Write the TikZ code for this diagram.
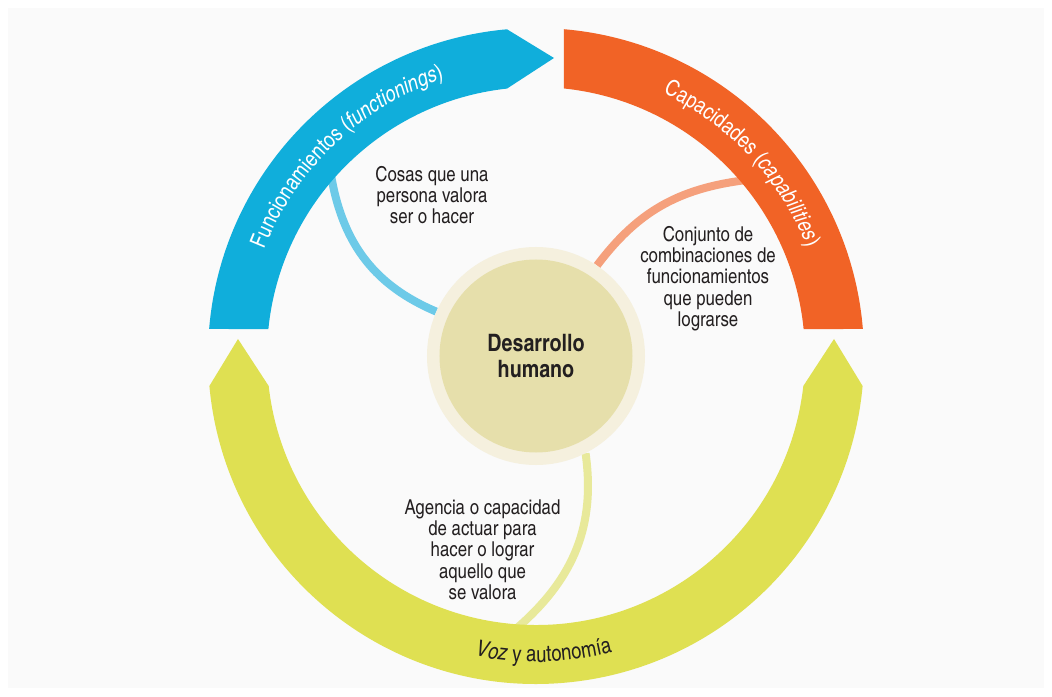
\documentclass[tikz,border=0pt]{standalone}
\usepackage{fontspec}
\setmainfont{texgyreheroscn-regular.otf}[BoldFont=texgyreheroscn-bold.otf, ItalicFont=texgyreheroscn-italic.otf, BoldItalicFont=texgyreheroscn-bolditalic.otf]
\usetikzlibrary{decorations.text}
\definecolor{panelgray}{HTML}{FAFAFA}
\definecolor{bandblue}{HTML}{10AEDB}
\definecolor{bandorange}{HTML}{F16326}
\definecolor{bandyellow}{HTML}{DFE052}
\definecolor{linkblue}{HTML}{6DCAE8}
\definecolor{linkorange}{HTML}{F5A07C}
\definecolor{linkyellow}{HTML}{E8E99A}
\definecolor{coreouter}{HTML}{F5F0DE}
\definecolor{coreinner}{HTML}{E6DFAB}
\definecolor{ink}{HTML}{231F20}
\newcommand\arcfont{\fontsize{22.5pt}{22.5pt}\selectfont}
\pgfdeclarelayer{paper}
\pgfdeclarelayer{links}
\pgfsetlayers{paper,links,main}
\tikzset{
  note/.style={align=center, text=ink, inner sep=0pt, font=\fontsize{20.5pt}{21.3pt}\selectfont},
  linkline/.style={line width=8pt, shorten >=-5pt},
  arclabel/.style 2 args={decorate, decoration={text along path, text align=center, text color=#2, text={#1}}}
}
\begin{document}
\begin{tikzpicture}[x=1pt,y=1pt]
\useasboundingbox (-536,-340) rectangle (516,356);
\begin{pgfonlayer}{paper}
\fill[white] (-536,-340) rectangle (516,356);
\fill[panelgray] (-528,-332) rectangle (508,348);
\end{pgfonlayer}

% bands
\fill[bandblue] (174.239:269pt) -- (175.278:328pt) arc[start angle=175.278, end angle=95.072, radius=328pt]
  -- (18pt,298pt) -- (96.189:269pt) arc[start angle=96.189, end angle=174.239, radius=269pt] -- cycle;
\fill[bandorange] (85.103:328pt) arc[start angle=85.103, end angle=4.722, radius=328pt]
  -- (5.761:269pt) arc[start angle=5.761, end angle=84.025, radius=269pt] -- cycle;
\fill[bandyellow] (185.248:328pt) arc[start angle=185.248, end angle=354.752, radius=328pt]
  -- (298pt,17pt) -- (353.597:269pt) arc[start angle=353.597, end angle=186.403, radius=269pt]
  -- (-298pt,17pt) -- cycle;

% band labels
\path[arclabel={|\arcfont|Funcionamientos (|\arcfont\itshape|functionings|\arcfont|)}{white}]
  (172:292pt) arc[start angle=172, end angle=95, radius=292pt];
\path[arclabel={|\arcfont|Capacidades (|\arcfont\itshape|capabilities|\arcfont|)}{white}]
  (80:292pt) arc[start angle=80, end angle=6, radius=292pt];
\path[arclabel={|\arcfont\itshape|Voz|\arcfont| y autonomía}{ink}]
  (240:306pt) arc[start angle=240, end angle=303, radius=306pt];

% connector ends on the bands
\coordinate (fEnd) at (139.5:268pt);
\coordinate (cEnd) at (40.5:270pt);
\coordinate (vEnd) at (266.8:269pt);

% core
\node[circle, fill=coreouter, minimum size=218pt, inner sep=0pt] (core) at (0,0) {};
\node[circle, fill=coreinner, minimum size=193pt, inner sep=0pt, align=center, text=ink,
  font=\fontsize{24pt}{26pt}\selectfont\bfseries] (coretext) at (core.center) {Desarrollo\\humano};

\begin{pgfonlayer}{links}
\draw[linkline, linkblue] (core.156.5) to[out=157, in=280] (fEnd);
\draw[linkline, linkorange] (core.56.7) to[out=53, in=187] (cEnd);
\draw[linkline, linkyellow] (core.297.3) to[out=278, in=41] (vEnd);
\end{pgfonlayer}

% notes
\node[note] (fnote) at (-104,161) {Cosas que una\\persona valora\\ser o hacer};
\node[note] (cnote) at (172,77.5) {Conjunto de\\combinaciones de\\funcionamientos\\que pueden\\lograrse};
\node[note] (anote) at (-53.5,-193.5) {Agencia o capacidad\\de actuar para\\hacer o lograr\\aquello que\\se valora};
\end{tikzpicture}
\end{document}
